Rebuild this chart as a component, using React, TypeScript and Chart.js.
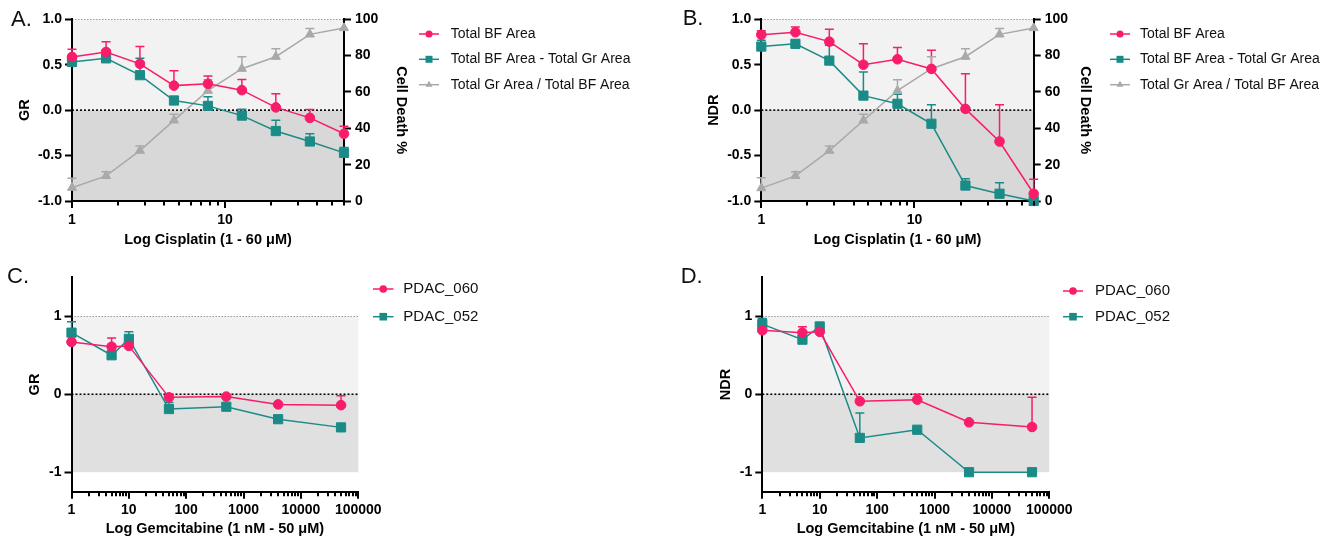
import React, { useEffect, useRef } from 'react';
import { Chart, registerables } from 'chart.js';

Chart.register(...registerables);

const FONT = "'Liberation Sans', Arial, Helvetica, sans-serif";
const PINK = '#F81C6A';
const TEAL = '#1B8B87';
const GRAY = '#A9A9A9';

// ---------------- Data: Cisplatin (panels A, B) ----------------
const cisplatinDoses = [1, 1.67, 2.78, 4.64, 7.74, 12.9, 21.5, 35.9, 60];
const cisplatinTickValues = [1, 2, 3, 4, 5, 6, 7, 8, 9, 10, 20, 30, 40, 50, 60];
const cisplatinTickLabels = [1, 10];

const grTotalBF = [0.586, 0.64, 0.51, 0.27, 0.29, 0.22, 0.03, -0.085, -0.26];
const grTotalBFErr = [0.084, 0.114, 0.19, 0.165, 0.087, 0.117, 0.15, 0.092, 0.084];
const grBFminusGr = [0.53, 0.57, 0.385, 0.106, 0.047, -0.06, -0.23, -0.345, -0.47];
const grBFminusGrErr = [0.07, 0.09, 0.185, 0.044, 0.1, 0.07, 0.12, 0.085, 0.06];
const cellDeathA = [7.3, 13.8, 27.7, 44.4, 60.7, 72.8, 79.4, 91.7, 95.2];
const cellDeathAErr = [5.2, 2.3, 2.6, 3.3, 6, 6.6, 4.4, 3.3, 0];

const ndrTotalBF = [0.83, 0.857, 0.754, 0.5, 0.56, 0.454, 0.014, -0.345, -0.92];
const ndrTotalBFErr = [0.045, 0.058, 0.136, 0.23, 0.13, 0.206, 0.386, 0.405, 0.16];
const ndrBFminusGr = [0.7, 0.73, 0.545, 0.16, 0.07, -0.15, -0.83, -0.92, -1.0];
const ndrBFminusGrErr = [0.07, 0.04, 0.17, 0.26, 0.105, 0.21, 0.075, 0.12, 0];
const cellDeathB = [7.1, 13.8, 27.7, 44.3, 60.7, 72.8, 79.4, 91.7, 95.2];
const cellDeathBErr = [5.7, 2.3, 2.6, 3.4, 6, 6.6, 4.4, 3.3, 0];

const ratioTicks = [-1, -0.5, 0, 0.5, 1];
const cellDeathTicks = [0, 20, 40, 60, 80, 100];

// ---------------- Data: Gemcitabine (panels C, D) ----------------
const gemcitabineDoses = [1, 5, 10, 50, 500, 4000, 50000];
const gemcitabineTickLabels = [1, 10, 100, 1000, 10000, 100000];
const gemTickValues: number[] = [];
for (let d = 1; d < 100000; d *= 10) {
  for (let m = 1; m <= 9; m++) gemTickValues.push(d * m);
}
gemTickValues.push(100000);
const gemYTicks = [-1, 0, 1];

const grPDAC060 = [0.67, 0.61, 0.62, -0.04, -0.03, -0.13, -0.14];
const grPDAC060Err = [0.11, 0.11, 0.03, 0, 0, 0, 0.12];
const grPDAC052 = [0.79, 0.5, 0.71, -0.19, -0.16, -0.32, -0.425];
const grPDAC052Err = [0.14, 0, 0.09, 0.085, 0, 0, 0];

const ndrPDAC060 = [0.82, 0.79, 0.8, -0.09, -0.07, -0.36, -0.42];
const ndrPDAC060Err = [0.07, 0.075, 0.02, 0, 0.07, 0, 0.38];
const ndrPDAC052 = [0.9, 0.7, 0.87, -0.56, -0.455, -1.0, -1.0];
const ndrPDAC052Err = [0.07, 0, 0.02, 0.32, 0, 0, 0];

// ---------------- helpers ----------------
const pts = (xs: number[], ys: number[]) => xs.map((x, i) => ({ x, y: ys[i] }));

function series(label: string, xs: number[], ys: number[], err: number[], color: string, style: string, yAxisID = 'y') {
  const radius = style === 'rect' ? 6.5 : style === 'triangle' ? 5.2 : 4.8;
  return {
    label,
    data: pts(xs, ys),
    errorBars: err,
    yAxisID,
    borderColor: color,
    backgroundColor: color,
    borderWidth: 1.5,
    pointStyle: style,
    pointRadius: radius,
    pointBackgroundColor: color,
    pointBorderColor: color,
    pointBorderWidth: 1,
    clip: false,
    tension: 0,
  };
}

function drawMarker(ctx: CanvasRenderingContext2D, style: string, x: number, y: number, s: number) {
  ctx.beginPath();
  if (style === 'rect') {
    ctx.rect(x - s, y - s, 2 * s, 2 * s);
  } else if (style === 'triangle') {
    const r = s * 1.15;
    ctx.moveTo(x, y - r);
    ctx.lineTo(x + r * 0.866, y + r * 0.5);
    ctx.lineTo(x - r * 0.866, y + r * 0.5);
    ctx.closePath();
  } else {
    ctx.arc(x, y, s, 0, Math.PI * 2);
  }
  ctx.fill();
}

const shadePlugin = {
  id: 'shade',
  beforeDraw(chart: any, _args: any, o: any) {
    const { ctx, chartArea } = chart;
    const y = chart.scales.y;
    const pTop = y.getPixelForValue(o.top);
    const p0 = y.getPixelForValue(0);
    const pBot = y.getPixelForValue(o.bottom);
    ctx.save();
    ctx.fillStyle = o.light;
    ctx.fillRect(chartArea.left, pTop, chartArea.right - chartArea.left, p0 - pTop);
    ctx.fillStyle = o.dark;
    ctx.fillRect(chartArea.left, p0, chartArea.right - chartArea.left, pBot - p0);
    // dotted line at top
    ctx.strokeStyle = o.topLineColor;
    ctx.lineWidth = 1;
    ctx.setLineDash([1.5, 1.5]);
    ctx.beginPath();
    ctx.moveTo(chartArea.left, Math.round(pTop) + 0.5);
    ctx.lineTo(chartArea.right, Math.round(pTop) + 0.5);
    ctx.stroke();
    // dotted zero line
    ctx.strokeStyle = '#000';
    ctx.lineWidth = 1.6;
    ctx.setLineDash([2, 2]);
    ctx.beginPath();
    ctx.moveTo(chartArea.left, p0);
    ctx.lineTo(chartArea.right, p0);
    ctx.stroke();
    ctx.restore();
  },
};

const errorBarPlugin = {
  id: 'errorBars',
  beforeDatasetsDraw(chart: any) {
    const { ctx } = chart;
    chart.data.datasets.forEach((ds: any, i: number) => {
      const meta = chart.getDatasetMeta(i);
      const ys = chart.scales[meta.yAxisID];
      ctx.save();
      ctx.strokeStyle = ds.borderColor;
      ctx.lineWidth = 1.5;
      (ds.errorBars || []).forEach((e: number, j: number) => {
        if (!e) return;
        const el = meta.data[j];
        const top = ys.getPixelForValue(ds.data[j].y + e);
        ctx.beginPath();
        ctx.moveTo(el.x, el.y);
        ctx.lineTo(el.x, top);
        ctx.moveTo(el.x - 4.5, top);
        ctx.lineTo(el.x + 4.5, top);
        ctx.stroke();
      });
      ctx.restore();
    });
  },
};

const xTickPlugin = {
  id: 'xTicks',
  afterDraw(chart: any) {
    const { ctx, chartArea } = chart;
    const xs = chart.scales.x;
    ctx.save();
    ctx.strokeStyle = '#000';
    ctx.lineWidth = 2;
    xs.ticks.forEach((t: any) => {
      const px = Math.round(xs.getPixelForValue(t.value));
      const lg = Math.log10(t.value);
      const major = Math.abs(lg - Math.round(lg)) < 1e-9;
      const len = major ? 7 : 4.5;
      ctx.beginPath();
      ctx.moveTo(px, chartArea.bottom);
      ctx.lineTo(px, chartArea.bottom + len);
      ctx.stroke();
    });
    ctx.restore();
  },
};

const legendPlugin = {
  id: 'sideLegend',
  afterDraw(chart: any, _a: any, o: any) {
    const { ctx } = chart;
    ctx.save();
    chart.data.datasets.forEach((ds: any, i: number) => {
      const y = o.rows[i];
      ctx.strokeStyle = ds.borderColor;
      ctx.lineWidth = 1.5;
      ctx.beginPath();
      ctx.moveTo(o.x0, y);
      ctx.lineTo(o.x1, y);
      ctx.stroke();
      ctx.fillStyle = ds.borderColor;
      drawMarker(ctx, ds.pointStyle, (o.x0 + o.x1) / 2, y, o.marker);
      ctx.fillStyle = '#111';
      ctx.font = `${o.size}px ${FONT}`;
      ctx.textBaseline = 'middle';
      ctx.textAlign = 'left';
      ctx.fillText(ds.label, o.textX, y);
    });
    ctx.restore();
  },
};

const tickFont = { family: FONT, size: 14, weight: 'bold' as const };
const titleFont = { family: FONT, size: 14.5, weight: 'bold' as const };

function zeroPad(s: any) {
  s.paddingTop = 0;
  s.paddingBottom = 0;
  s.paddingLeft = 0;
  s.paddingRight = 0;
}

function makeConfig(p: any) {
  const scales: any = {
    x: {
      type: 'logarithmic',
      min: p.xMin,
      max: p.xMax,
      afterBuildTicks: (s: any) => {
        s.ticks = p.xTicks.map((v: number) => ({ value: v }));
      },
      afterFit: (s: any) => {
        s.height = p.xHeight;
        zeroPad(s);
      },
      grid: { display: false, drawTicks: false },
      border: { display: true, color: '#000', width: 2 },
      ticks: {
        autoSkip: false,
        maxRotation: 0,
        minRotation: 0,
        padding: 10.5,
        color: '#000',
        font: tickFont,
        callback: (v: any) => (p.xLabels.includes(Number(v)) ? String(v) : ''),
      },
      title: { display: true, text: p.xTitle, color: '#000', font: titleFont, padding: { top: 4, bottom: 0 } },
    },
    y: {
      type: 'linear',
      position: 'left',
      min: p.yMin,
      max: p.yMax,
      afterBuildTicks: (s: any) => {
        s.ticks = p.yTicks.map((v: number) => ({ value: v }));
      },
      afterFit: (s: any) => {
        s.width = p.leftWidth;
        zeroPad(s);
      },
      grid: { display: true, drawOnChartArea: false, drawTicks: true, tickLength: 7, tickWidth: 2, tickColor: '#000' },
      border: { display: true, color: '#000', width: 2 },
      ticks: { padding: 3, color: '#000', font: tickFont, callback: (v: any) => p.yFormat(Number(v)) },
      title: { display: true, text: p.yTitle, color: '#000', font: titleFont, padding: { top: 4, bottom: 0 } },
    },
  };
  if (p.y2) {
    scales.y2 = {
      type: 'linear',
      position: 'right',
      min: p.y2.min,
      max: p.y2.max,
      afterBuildTicks: (s: any) => {
        s.ticks = p.y2.ticks.map((v: number) => ({ value: v }));
      },
      afterFit: (s: any) => {
        s.width = p.y2.width;
        zeroPad(s);
      },
      grid: { display: true, drawOnChartArea: false, drawTicks: true, tickLength: 7, tickWidth: 2, tickColor: '#000' },
      border: { display: true, color: '#000', width: 2 },
      ticks: { padding: 4, color: '#000', font: tickFont, callback: (v: any) => String(v) },
      title: { display: true, text: p.y2.title, color: '#000', font: titleFont, padding: { top: 4, bottom: 0 } },
    };
  }
  return {
    type: 'line' as const,
    data: { datasets: p.datasets },
    plugins: [shadePlugin, errorBarPlugin, xTickPlugin, legendPlugin],
    options: {
      responsive: false,
      animation: false as const,
      devicePixelRatio: 1,
      layout: { padding: p.padding },
      scales,
      plugins: {
        legend: { display: false },
        tooltip: { enabled: false },
        shade: p.shade,
        sideLegend: p.legend,
      },
    },
  };
}

const fmt1 = (v: number) => v.toFixed(1);
const fmt0 = (v: number) => String(v);

const panels = [
  {
    key: 'A',
    left: 0, top: 0, width: 660, height: 260,
    config: makeConfig({
      datasets: [
        series('Total BF Area', cisplatinDoses, grTotalBF, grTotalBFErr, PINK, 'circle'),
        series('Total BF Area - Total Gr Area', cisplatinDoses, grBFminusGr, grBFminusGrErr, TEAL, 'rect'),
        series('Total Gr Area / Total BF Area', cisplatinDoses, cellDeathA, cellDeathAErr, GRAY, 'triangle', 'y2'),
      ],
      xMin: 1, xMax: 60, xTicks: cisplatinTickValues, xLabels: cisplatinTickLabels,
      xTitle: 'Log Cisplatin (1 - 60 μM)',
      yMin: -1, yMax: 1, yTicks: ratioTicks, yFormat: fmt1, yTitle: 'GR',
      y2: { min: 0, max: 100, ticks: cellDeathTicks, title: 'Cell Death %', width: 69.7 },
      padding: { left: 12.3, right: 246.3, top: 19.3, bottom: 11 },
      leftWidth: 59.7, xHeight: 48,
      shade: { top: 1, bottom: -1, light: '#F2F2F2', dark: '#D8D8D8', topLineColor: '#9A9A9A' },
      legend: { x0: 419, x1: 439, textX: 450.7, rows: [34, 59.3, 84.7], size: 14, marker: 3.5 },
    }),
  },
  {
    key: 'B',
    left: 660, top: 0, width: 676, height: 260,
    config: makeConfig({
      datasets: [
        series('Total BF Area', cisplatinDoses, ndrTotalBF, ndrTotalBFErr, PINK, 'circle'),
        series('Total BF Area - Total Gr Area', cisplatinDoses, ndrBFminusGr, ndrBFminusGrErr, TEAL, 'rect'),
        series('Total Gr Area / Total BF Area', cisplatinDoses, cellDeathB, cellDeathBErr, GRAY, 'triangle', 'y2'),
      ],
      xMin: 1, xMax: 60, xTicks: cisplatinTickValues, xLabels: cisplatinTickLabels,
      xTitle: 'Log Cisplatin (1 - 60 μM)',
      yMin: -1, yMax: 1, yTicks: ratioTicks, yFormat: fmt1, yTitle: 'NDR',
      y2: { min: 0, max: 100, ticks: cellDeathTicks, title: 'Cell Death %', width: 64 },
      padding: { left: 41.3, right: 238.3, top: 19.3, bottom: 11 },
      leftWidth: 60, xHeight: 48,
      shade: { top: 1, bottom: -1, light: '#F2F2F2', dark: '#D8D8D8', topLineColor: '#9A9A9A' },
      legend: { x0: 450, x1: 470, textX: 480, rows: [34, 59.3, 84.7], size: 14, marker: 3.5 },
    }),
  },
  {
    key: 'C',
    left: 0, top: 258, width: 660, height: 280,
    config: makeConfig({
      datasets: [
        series('PDAC_060', gemcitabineDoses, grPDAC060, grPDAC060Err, PINK, 'circle'),
        series('PDAC_052', gemcitabineDoses, grPDAC052, grPDAC052Err, TEAL, 'rect'),
      ],
      xMin: 1, xMax: 100000, xTicks: gemTickValues, xLabels: gemcitabineTickLabels,
      xTitle: 'Log Gemcitabine (1 nM - 50 μM)',
      yMin: -1.25, yMax: 1.5, yTicks: gemYTicks, yFormat: fmt0, yTitle: 'GR',
      padding: { left: 22.3, right: 301.7, top: 19.3, bottom: 0 },
      leftWidth: 49.2, xHeight: 46.3,
      shade: { top: 1, bottom: -1, light: '#F2F2F2', dark: '#E0E0E0', topLineColor: '#9A9A9A' },
      legend: { x0: 373, x1: 393.5, textX: 403.3, rows: [31, 58.7], size: 15, marker: 3.8 },
    }),
  },
  {
    key: 'D',
    left: 660, top: 258, width: 676, height: 280,
    config: makeConfig({
      datasets: [
        series('PDAC_060', gemcitabineDoses, ndrPDAC060, ndrPDAC060Err, PINK, 'circle'),
        series('PDAC_052', gemcitabineDoses, ndrPDAC052, ndrPDAC052Err, TEAL, 'rect'),
      ],
      xMin: 1, xMax: 100000, xTicks: gemTickValues, xLabels: gemcitabineTickLabels,
      xTitle: 'Log Gemcitabine (1 nM - 50 μM)',
      yMin: -1.25, yMax: 1.5, yTicks: gemYTicks, yFormat: fmt0, yTitle: 'NDR',
      padding: { left: 53.3, right: 286.7, top: 19.3, bottom: 0 },
      leftWidth: 49, xHeight: 46.3,
      shade: { top: 1, bottom: -1, light: '#F2F2F2', dark: '#E0E0E0', topLineColor: '#9A9A9A' },
      legend: { x0: 403, x1: 423, textX: 435, rows: [33, 58.7], size: 15, marker: 3.8 },
    }),
  },
];

const panelLabels = [
  { text: 'A.', left: 11, top: 8.1 },
  { text: 'B.', left: 682.7, top: 7.4 },
  { text: 'C.', left: 7, top: 264.7 },
  { text: 'D.', left: 680.7, top: 264.7 },
];

function ChartPanel({ config, width, height }: { config: any; width: number; height: number }) {
  const ref = useRef<HTMLCanvasElement>(null);
  useEffect(() => {
    const chart = new Chart(ref.current as HTMLCanvasElement, config);
    return () => chart.destroy();
  }, [config]);
  return <canvas ref={ref} width={width} height={height} style={{ width, height, display: 'block' }} />;
}

export default function App() {
  return (
    <div
      style={{
        position: 'absolute',
        left: 0,
        top: 0,
        width: 1336,
        height: 538,
        overflow: 'hidden',
        background: '#fff',
      }}
    >
      {panels.map((p) => (
        <div key={p.key} style={{ position: 'absolute', left: p.left, top: p.top, width: p.width, height: p.height }}>
          <ChartPanel config={p.config} width={p.width} height={p.height} />
        </div>
      ))}
      {panelLabels.map((l) => (
        <div
          key={l.text}
          style={{
            position: 'absolute',
            left: l.left,
            top: l.top,
            fontFamily: FONT,
            fontSize: 22,
            lineHeight: '22px',
            color: '#111',
            whiteSpace: 'nowrap',
          }}
        >
          {l.text}
        </div>
      ))}
    </div>
  );
}
